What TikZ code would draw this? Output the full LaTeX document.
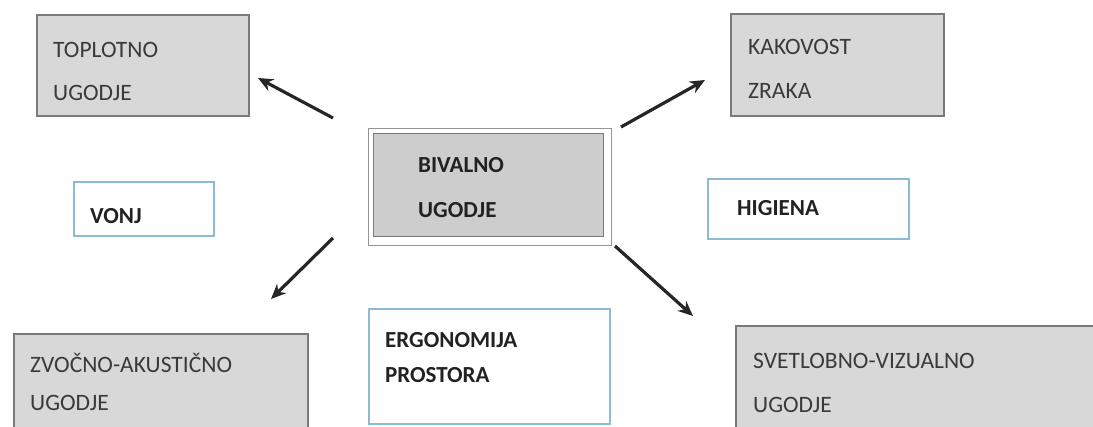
\documentclass[tikz,border=0pt]{standalone}
\usepackage{fontspec}
\setmainfont{Carlito}
\usetikzlibrary{arrows.meta}
\definecolor{boxgray}{HTML}{D8D8D8}
\definecolor{boxgrayd}{HTML}{CDCDCD}
\definecolor{edgegray}{HTML}{7A7A7A}
\definecolor{edgeblue}{HTML}{8DBBD6}
\definecolor{txt}{HTML}{3A3A3A}
\definecolor{txtb}{HTML}{222222}
\tikzset{
  gbox/.style={draw=edgegray, line width=1.5pt, fill=boxgray, anchor=north west, inner sep=0pt},
  bbox/.style={draw=edgeblue, line width=2pt, fill=white, anchor=north west, inner sep=0pt},
  lbl/.style={anchor=base west, inner sep=0pt, text=txt, font=\fontsize{23.5}{26}\selectfont},
  bl/.style={lbl, text=txtb, font=\fontsize{23}{26}\selectfont\bfseries},
  arr/.style={line width=3.2pt, draw=black!85, -{Stealth[length=15pt, width=13pt]}}
}
\begin{document}
\begin{tikzpicture}[x=1pt, y=-1pt]
\useasboundingbox (0,0) rectangle (1093,426);
\fill[white] (0,0) rectangle (1093,426);
% gray boxes
\node[gbox, minimum width=212pt, minimum height=101pt] (top) at (36,14) {};
\node[lbl] (topa) at (53,57) {TOPLOTNO};
\node[lbl] (topb) at (53,100) {UGODJE};

\node[gbox, minimum width=213pt, minimum height=102pt] (kak) at (730,13) {};
\node[lbl] (kaka) at (748,54) {KAKOVOST};
\node[lbl] (kakb) at (748,98) {ZRAKA};

\node[gbox, minimum width=294pt, minimum height=100pt] (zvo) at (13,333) {};
\node[lbl] (zvoa) at (30,372) {ZVOČNO-AKUSTIČNO};
\node[lbl] (zvob) at (30,410) {UGODJE};

\node[gbox, minimum width=360pt, minimum height=110pt] (svet) at (735,325) {};
\node[lbl] (sveta) at (753,368) {SVETLOBNO-VIZUALNO};
\node[lbl] (svetb) at (753,412) {UGODJE};

% center
\node[draw=edgegray!80, line width=1pt, fill=white, anchor=north west, inner sep=0pt,
      minimum width=243pt, minimum height=117pt] (cen) at (368,128) {};
\node[draw=edgegray, line width=1.2pt, fill=boxgrayd, anchor=north west, inner sep=0pt,
      minimum width=230pt, minimum height=103pt] (ceni) at (373,133) {};
\node[bl] (cena) at (418,172) {BIVALNO};
\node[bl] (cenb) at (418,217) {UGODJE};

% blue boxes
\node[bbox, minimum width=140pt, minimum height=54pt] (vonj) at (73,181) {};
\node[bl] (vonjt) at (90,223) {VONJ};

\node[bbox, minimum width=201pt, minimum height=60pt] (hig) at (707,178) {};
\node[bl] (higt) at (737,215) {HIGIENA};

\node[bbox, minimum width=241pt, minimum height=115pt] (erg) at (368,308) {};
\node[bl] (erga) at (385,347) {ERGONOMIJA};
\node[bl] (ergb) at (385,382) {PROSTORA};

% arrows
\coordinate (t1) at (333,118); \coordinate (h1) at (258,78);
\coordinate (t2) at (621,127); \coordinate (h2) at (705,80);
\coordinate (t3) at (333,238); \coordinate (h3) at (271,299);
\coordinate (t4) at (615,246); \coordinate (h4) at (693,316);
\draw[arr] (t1) -- (h1);
\draw[arr] (t2) -- (h2);
\draw[arr] (t3) -- (h3);
\draw[arr] (t4) -- (h4);
\end{tikzpicture}
\end{document}
